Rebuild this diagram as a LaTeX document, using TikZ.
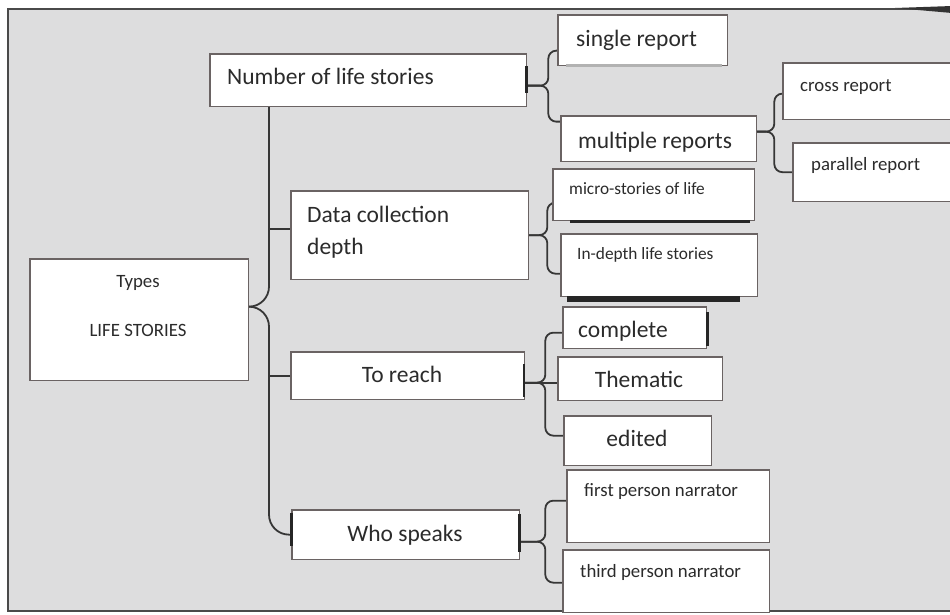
\documentclass[tikz,border=0pt]{standalone}
\usepackage{fontspec}
\setmainfont{Carlito}
\usetikzlibrary{calc}
\definecolor{panel}{HTML}{DDDDDE}
\definecolor{panelline}{HTML}{4A4A4A}
\definecolor{boxline}{HTML}{6A6363}
\definecolor{txt}{HTML}{2B2B2B}
\definecolor{connc}{HTML}{363636}
\begin{document}
\begin{tikzpicture}[x=1pt,y=-1pt,
  box/.style={draw=boxline, line width=1.3pt, fill=white, inner sep=0pt, anchor=north west},
  big/.style={font=\fontsize{23.5}{28}\selectfont, text=txt, inner sep=0pt},
  small/.style={font=\fontsize{17.3}{21}\selectfont, text=txt, inner sep=0pt},
  mid/.style={font=\fontsize{18.8}{23}\selectfont, text=txt, inner sep=0pt},
  link/.style={draw=connc, line width=1.8pt, rounded corners=8pt},
  shade/.style={fill=black!85},
]
\useasboundingbox (0,0) rectangle (950,615);
% background panel
\fill[white] (0,0) rectangle (950,615);
\filldraw[fill=panel, draw=panelline, line width=1.5pt] (8,9) rectangle (965,611);
\fill[black!80] (895,8) -- (952,6) -- (952,13) -- cycle;

% boxes (positions only, drawn later on top of connectors)
\path
  node[box, minimum width=217pt, minimum height=120pt, draw=none, fill=none] (types) at (30,259) {}
  node[box, minimum width=315pt, minimum height=51pt, draw=none, fill=none] (num) at (210,54) {}
  node[box, minimum width=168pt, minimum height=49pt, draw=none, fill=none] (single) at (558,15) {}
  node[box, minimum width=194pt, minimum height=44pt, draw=none, fill=none] (multi) at (561,116) {}
  node[box, minimum width=190pt, minimum height=55pt, draw=none, fill=none] (cross) at (783,63) {}
  node[box, minimum width=180pt, minimum height=57pt, draw=none, fill=none] (parallel) at (793,143) {}
  node[box, minimum width=236pt, minimum height=87pt, draw=none, fill=none] (dat) at (291,191) {}
  node[box, minimum width=200pt, minimum height=50pt, draw=none, fill=none] (micro) at (553,169) {}
  node[box, minimum width=195pt, minimum height=61pt, draw=none, fill=none] (indepth) at (561,234) {}
  node[box, minimum width=232pt, minimum height=46pt, draw=none, fill=none] (reach) at (291,352) {}
  node[box, minimum width=142pt, minimum height=40pt, draw=none, fill=none] (complete) at (563,307) {}
  node[box, minimum width=163pt, minimum height=42pt, draw=none, fill=none] (thematic) at (558,357) {}
  node[box, minimum width=146pt, minimum height=48pt, draw=none, fill=none] (edited) at (564,416) {}
  node[box, minimum width=226pt, minimum height=48pt, draw=none, fill=none] (who) at (292,510) {}
  node[box, minimum width=201pt, minimum height=71pt, draw=none, fill=none] (first) at (567,470) {}
  node[box, minimum width=205pt, minimum height=61pt, draw=none, fill=none] (third) at (563,550) {};

% connectors
\coordinate (sp) at (269,0);
\coordinate (typesOut) at ([yshift=13pt]types.east);
\coordinate (datIn) at ([yshift=6pt]dat.west);
\draw[link, rounded corners=20pt] (num.south -| sp) |- (typesOut);
\draw[link, rounded corners=20pt] (typesOut) -| (sp |- who.west) -- (who.west);
\draw[link] (sp |- datIn) -- (datIn);
\draw[link] (sp |- reach.west) -- (reach.west);

\coordinate (numOut) at ([yshift=-5.5pt]num.east);
\draw[link] (numOut) -- ++(22,0) |- ([yshift=-10.5pt]single.west);
\draw[link] (numOut) -- ++(22,0) |- ([yshift=17pt]multi.west);

\coordinate (multiOut) at ([yshift=7pt]multi.east);
\draw[link] (multiOut) -- ++(18,0) |- ([yshift=-2.5pt]cross.west);
\draw[link] (multiOut) -- ++(18,0) |- (parallel.west);

\draw[link] (dat.east) -- ++(19,0) |- ([yshift=-8pt]micro.west);
\draw[link] (dat.east) -- ++(19,0) |- ([yshift=-8.5pt]indepth.west);

\coordinate (reachOut) at ([yshift=-7pt]reach.east);
\draw[link] (reachOut) -- ++(21,0) |- ([yshift=-5pt]complete.west);
\draw[link] (reachOut) -- ([yshift=-4pt]thematic.west);
\draw[link] (reachOut) -- ++(21,0) |- ([yshift=5pt]edited.west);

\coordinate (whoOut) at ([yshift=-7pt]who.east);
\draw[link] (whoOut) -- ++(26,0) |- ([yshift=5.5pt]first.west);
\draw[link] (whoOut) -- ++(26,0) |- ([yshift=-1.5pt]third.west);

% visible boxes
\foreach \n in {types,num,single,multi,cross,parallel,dat,micro,indepth,reach,complete,thematic,edited,who,first,third}
  \draw[draw=boxline, line width=1.3pt, fill=white] (\n.north west) rectangle (\n.south east);

% shadows / dark edges
\fill[black!30] (566,64.5) rectangle (722,67);
\fill[shade] (570,219.5) rectangle (750,222.5);
\fill[shade] (567,295.5) rectangle (740,302);
\fill[shade] (705.5,312) rectangle (708.5,346);
\fill[shade] (524.5,66) rectangle (528,93);
\fill[shade] (522.5,364) rectangle (525,397);
\fill[shade] (289.5,513) rectangle (292.5,546);
\fill[shade] (517.5,514) rectangle (520.5,552);

% texts
\node[big, anchor=base west] (tNum) at (227,85) {Number of life stories};
\node[big, anchor=base west] (tSingle) at (576,47) {single report};
\node[big, anchor=base] (tMulti) at (655,148) {multiple reports};
\node[mid, anchor=base west] (tCross) at (800,92) {cross report};
\node[mid, anchor=base west] (tPar) at (811,170) {parallel report};
\node[big, anchor=base west] (tDat1) at (307,222) {Data collection};
\node[big, anchor=base west] (tDat2) at (307,254) {depth};
\node[small, anchor=base west] (tMicro) at (569,194) {micro-stories of life};
\node[small, anchor=base west] (tInd) at (577,259) {In-depth life stories};
\node[mid, anchor=base] (tTypes) at (138,287) {Types};
\node[mid, anchor=base] (tLife) at (138,336) {LIFE STORIES};
\node[big, anchor=base] (tReach) at (402,382) {To reach};
\node[big, anchor=base] (tComp) at (623,337) {complete};
\node[big, anchor=base] (tThem) at (639,387) {Thematic};
\node[big, anchor=base] (tEd) at (637,446) {edited};
\node[big, anchor=base] (tWho) at (405,541) {Who speaks};
\node[mid, anchor=base west] (tFirst) at (584,496) {first person narrator};
\node[mid, anchor=base west] (tThird) at (580,577) {third person narrator};
\end{tikzpicture}
\end{document}
